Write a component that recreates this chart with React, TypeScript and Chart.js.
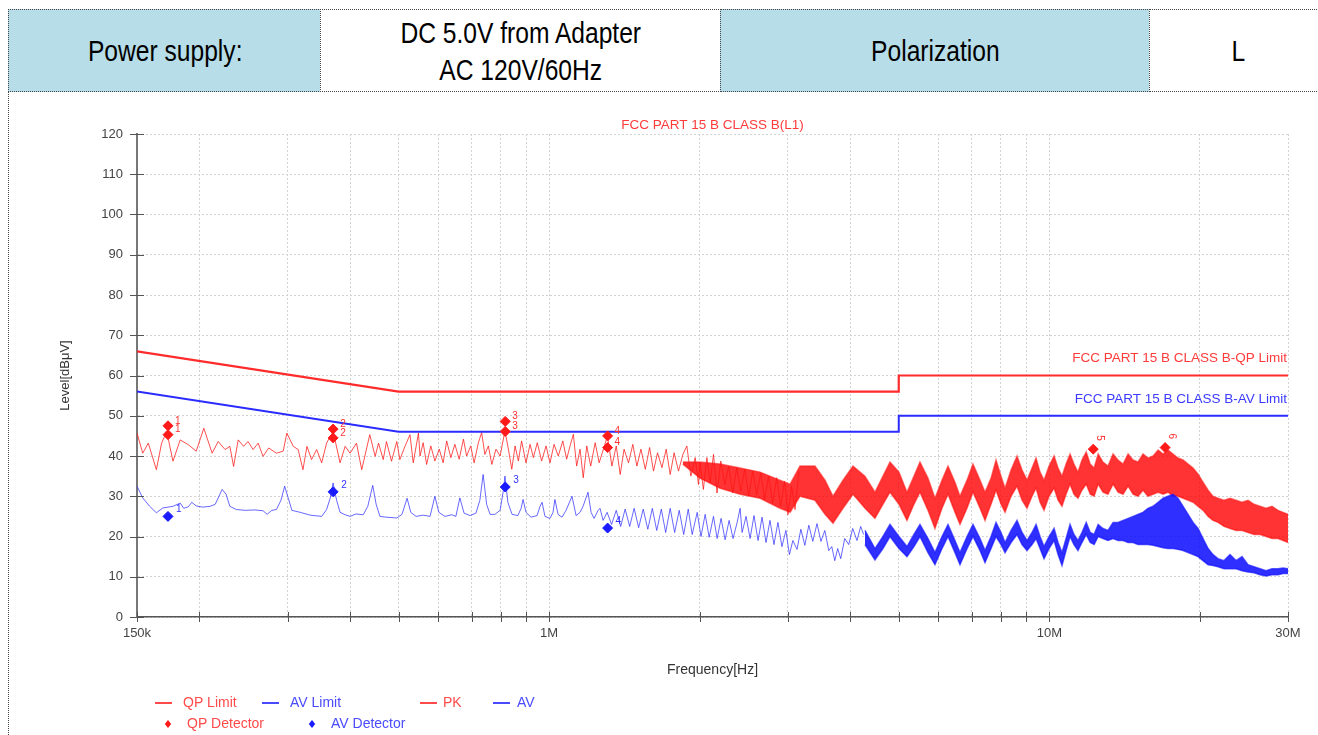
import React, { useEffect, useRef } from 'react';
import { Chart, registerables } from 'chart.js';

Chart.register(...registerables);

const FONT = '"Liberation Sans", Arial, Helvetica, sans-serif';

// ---------- header table texts ----------
const supplyLabel = 'Power supply:';
const supplyLines = ['DC 5.0V from Adapter', 'AC 120V/60Hz'];
const polarLabel = 'Polarization';
const polarValue = 'L';

// ---------- chart texts ----------
const chartTitle = 'FCC PART 15 B CLASS B(L1)';
const qpLimitName = 'FCC PART 15 B CLASS B-QP Limit';
const avLimitName = 'FCC PART 15 B CLASS B-AV Limit';
const yAxisTitle = 'Level[dBμV]';
const xAxisTitle = 'Frequency[Hz]';
const legendRow1 = ['QP Limit', 'AV Limit', 'PK', 'AV'];
const legendRow2 = ['QP Detector', 'AV Detector'];

// ---------- axes (frequency in MHz, level in dBμV) ----------
const yTicks = [0, 10, 20, 30, 40, 50, 60, 70, 80, 90, 100, 110, 120];
const xGridFreq = [0.15, 0.2, 0.3, 0.4, 0.5, 0.6, 0.7, 0.8, 0.9, 1, 2, 3, 4, 5, 6, 7, 8, 9, 10, 20, 30];
const xLabelFreq = [0.15, 1, 10, 30];
const xLabelText = ['150k', '1M', '10M', '30M'];

// ---------- limits ----------
const limitFreq = [0.15, 0.5, 5, 5, 30];
const qpLimitLevel = [66, 56, 56, 60, 60];
const avLimitLevel = [56, 46, 46, 50, 50];

// ---------- PK trace (thin part) ----------
const pkFreq = [
  0.150, 0.154, 0.158, 0.164, 0.168, 0.172, 0.177, 0.183, 0.190, 0.197, 0.204, 0.212, 0.218,
  0.225, 0.230, 0.234, 0.239, 0.245, 0.250, 0.256, 0.262, 0.268, 0.275, 0.285, 0.294, 0.299,
  0.308, 0.315, 0.322, 0.328, 0.335, 0.343, 0.351, 0.359, 0.370, 0.382, 0.391, 0.400, 0.412,
  0.422, 0.438, 0.449, 0.456, 0.466, 0.473, 0.484, 0.496, 0.503, 0.515, 0.527, 0.535, 0.548,
  0.552, 0.560, 0.569, 0.580, 0.591, 0.603, 0.614, 0.624, 0.636, 0.648, 0.661, 0.674, 0.684,
  0.697, 0.708, 0.722, 0.733, 0.744, 0.756, 0.768, 0.783, 0.798, 0.816, 0.829, 0.842, 0.855,
  0.868, 0.881, 0.899, 0.916, 0.930, 0.947, 0.966, 0.986, 1.004, 1.023, 1.043, 1.065, 1.084,
  1.101, 1.118, 1.135, 1.153, 1.170, 1.189, 1.211, 1.236, 1.259, 1.284, 1.308, 1.335, 1.362,
  1.387, 1.412, 1.441, 1.470, 1.498, 1.526, 1.557, 1.588, 1.617, 1.647, 1.681, 1.714, 1.746,
  1.778, 1.814, 1.851, 1.885, 1.920, 1.959, 1.989,
  2.003, 2.034, 2.067, 2.099, 2.131, 2.166, 2.204, 2.245, 2.286, 2.329, 2.372, 2.416, 2.461,
  2.506, 2.553, 2.600, 2.648, 2.697, 2.747, 2.798, 2.850, 2.903, 2.956, 3.002, 3.053, 3.102, 3.159,
];
const pkLevel = [
  45.7, 40.7, 43.2, 36.6, 43.2, 46.1, 38.7, 44.0, 42.8, 41.2, 46.9, 40.7, 43.6,
  41.6, 42.4, 37.4, 44.0, 42.4, 43.6, 41.6, 43.2, 39.9, 42.0, 40.7, 41.2, 45.7,
  42.4, 41.6, 36.6, 42.4, 39.1, 41.6, 38.3, 43.2, 46.1, 38.3, 42.4, 40.7, 43.2,
  36.6, 45.3, 39.9, 43.2, 39.1, 43.6, 38.7, 43.6, 39.1, 42.4, 45.3, 38.3, 45.7,
  40.0, 43.3, 37.9, 42.5, 38.75, 41.7, 38.3, 43.75, 39.6, 42.9, 39.2, 44.2, 40.0,
  42.5, 38.3, 43.3, 45.8, 40.4, 42.5, 37.9, 41.7, 40.0, 46.25, 41.7, 36.7, 42.5,
  38.75, 43.75, 38.3, 42.9, 39.6, 43.3, 38.75, 42.5, 38.3, 42.9, 40.0, 43.75, 39.2,
  42.5, 45.4, 37.5, 41.7, 34.6, 42.5, 37.5, 43.3, 38.3, 41.7, 45.0, 37.5, 42.5,
  35.4, 41.7, 38.3, 42.9, 37.5, 41.7, 36.7, 42.1, 36.25, 40.8, 37.1, 41.7, 35.4,
  40.8, 36.25, 40.4, 42.5, 35.0, 39.6, 32.9,
  38.3, 31.7, 39.6, 33.3, 40.4, 30.8, 38.75, 32.9, 37.5, 30.8, 37.1, 31.25, 36.7,
  30.0, 36.25, 30.4, 35.8, 29.2, 35.0, 28.3, 34.6, 27.5, 33.75, 25.4, 32.5, 26.7, 36.25,
];

// ---------- AV trace (thin part) ----------
const avFreq = [
  0.150, 0.154, 0.159, 0.164, 0.169, 0.173, 0.177, 0.183, 0.186, 0.190, 0.193, 0.197, 0.203,
  0.210, 0.215, 0.222, 0.226, 0.230, 0.237, 0.247, 0.258, 0.268, 0.273, 0.279, 0.285, 0.291,
  0.296, 0.301, 0.306, 0.318, 0.333, 0.351, 0.359, 0.365, 0.370, 0.376, 0.382, 0.391, 0.400,
  0.411, 0.425, 0.434, 0.444, 0.451, 0.459, 0.472, 0.496, 0.508, 0.520, 0.529, 0.542, 0.560,
  0.578, 0.591, 0.602, 0.619, 0.639, 0.651, 0.663, 0.676, 0.695, 0.714, 0.727, 0.738, 0.750,
  0.762, 0.779, 0.798, 0.809, 0.816, 0.827, 0.843, 0.866, 0.879, 0.887, 0.899, 0.920, 0.946,
  0.959, 0.968, 0.981, 1.004, 1.018, 1.027, 1.042, 1.061, 1.081, 1.111, 1.132, 1.153, 1.169,
  1.196, 1.213, 1.230, 1.253, 1.264,
  1.282, 1.306, 1.333, 1.362, 1.390, 1.419, 1.449, 1.479, 1.510, 1.542, 1.575, 1.608, 1.641,
  1.676, 1.710, 1.746, 1.782, 1.820, 1.858, 1.897, 1.932, 1.977, 2.012, 2.051, 2.089, 2.131,
  2.167, 2.207, 2.248, 2.290, 2.332, 2.376, 2.409, 2.431, 2.476, 2.522, 2.568, 2.616, 2.665,
  2.714, 2.764, 2.815, 2.867, 2.920, 2.974, 3.022, 3.071, 3.130, 3.186, 3.245, 3.305, 3.366,
  3.432, 3.495, 3.557, 3.623, 3.673, 3.724, 3.775, 3.828, 3.899, 3.971, 4.045, 4.125, 4.196, 4.254,
];
const avLevel = [
  32.5, 29.6, 27.5, 25.9, 27.1, 27.3, 27.5, 28.3, 27.0, 27.4, 28.5, 27.6, 27.3,
  27.5, 28.0, 31.7, 30.5, 27.5, 26.7, 26.5, 26.6, 26.4, 25.5, 26.5, 26.7, 29.0,
  32.5, 29.5, 26.5, 26.0, 25.3, 25.0, 26.7, 29.5, 33.3, 29.0, 26.0, 25.4, 25.0,
  25.6, 25.4, 27.5, 32.7, 28.0, 25.0, 24.8, 24.6, 25.5, 29.5, 26.0, 25.0, 25.3,
  25.0, 30.0, 26.0, 25.0, 25.4, 25.0, 29.6, 25.8, 25.2, 25.8, 29.0, 35.4, 28.0,
  25.5, 25.5, 26.5, 31.0, 35.0, 28.5, 25.5, 25.2, 27.0, 29.2, 26.0, 24.8, 25.2,
  27.5, 28.5, 25.0, 24.5, 26.0, 29.2, 25.5, 24.8, 26.5, 30.0, 25.2, 26.0, 27.5,
  31.0, 26.0, 24.5, 26.5, 27.0,
  24.0, 26.0, 23.0, 26.5, 22.5, 26.8, 22.5, 27.0, 22.2, 26.8, 21.8, 27.0, 21.5,
  26.8, 21.0, 27.0, 21.0, 26.5, 20.5, 26.8, 20.5, 26.0, 20.0, 25.5, 19.8, 25.0,
  19.5, 24.5, 19.2, 24.0, 19.5, 23.5, 27.0, 21.0, 25.0, 19.5, 25.2, 19.0, 24.8,
  18.5, 24.0, 18.0, 23.5, 17.5, 21.5, 15.5, 19.0, 16.8, 21.8, 17.8, 22.8, 18.8,
  23.2, 18.8, 21.5, 16.5, 17.5, 14.0, 17.0, 14.5, 19.5, 18.0, 22.0, 19.0, 22.5, 20.5,
];

// ---------- dense high-frequency part: upper / lower envelopes ----------
const bandFreq = [
  1.85, 2.003, 2.197, 2.409, 2.640, 2.894,
  3.032, 3.173, 3.400, 3.561, 3.694, 3.868, 4.050, 4.280, 4.481, 4.649, 4.802, 5.005, 5.193,
  5.362, 5.513, 5.720, 5.907, 6.101, 6.272, 6.477, 6.628, 6.846, 7.037, 7.268, 7.437, 7.646,
  7.824, 8.006, 8.155, 8.384, 8.618, 8.819, 9.024, 9.234, 9.407, 9.581, 9.758, 9.986, 10.22,
  10.41, 10.60, 10.80, 11.00, 11.20, 11.41, 11.62, 11.85, 12.07, 12.29, 12.52, 12.80, 13.10,
  13.41, 13.72, 14.04, 14.37, 14.70, 15.04, 15.39, 15.75, 16.12, 16.50, 16.88, 17.27, 17.67,
  18.08, 18.51, 18.94, 19.38, 19.83, 20.29, 20.77, 21.24, 21.74, 22.35, 22.97, 23.62, 24.28,
  24.96, 25.66, 26.38, 27.12, 27.87, 28.65, 29.32, 30.0,
];
const pkBandHigh = [
  38.5, 38.5, 38, 37, 36, 34,
  33, 37.5, 37.5, 34, 30, 34, 37.5, 35, 31, 35, 38.5, 36, 31,
  35, 38.5, 34.5, 29.5, 34, 37.5, 33.5, 30, 34, 38, 34, 31, 34.5,
  39, 35, 32, 36.5, 40, 36.5, 34, 37, 39.5, 36, 34, 37.5, 40,
  37, 35, 38, 40.5, 38, 36, 39, 41, 38, 37, 40.5, 38.5, 37.5,
  40.5, 39, 38, 40.5, 39, 38.5, 40.5, 39.5, 40, 41.5, 40.5, 41.5, 40.5,
  39.5, 39, 38, 37, 35.5, 33.5, 31.5, 30, 29.5, 29, 29.5, 29, 28.5,
  29, 28, 27.5, 27, 27.5, 26.5, 26, 25.5,
];
const pkBandLow = [
  38, 34.5, 32, 30.5, 29.5, 27,
  26, 30, 29, 25.5, 23.3, 27, 30.5, 27, 24.5, 28, 31, 28, 24,
  28, 31, 26.5, 22, 27, 30.5, 26, 23, 27, 31, 27, 24, 28,
  31.5, 28, 26, 30, 32.5, 29, 27, 30, 32, 28.5, 26.5, 30, 32,
  29, 27.5, 30.5, 33, 30.5, 29.5, 31.5, 33, 30.5, 30, 33, 31, 30.5,
  33, 31, 30.5, 32.5, 30.5, 30, 31.5, 30, 30.5, 31, 30.5, 31, 30,
  30, 29.5, 29, 28.5, 27.5, 26.5, 25, 24, 23.5, 22.5, 22, 21.5, 21.5,
  21, 20.5, 20.5, 20, 19.5, 19.5, 19, 18.5,
];
const avBandHigh = [
  null, null, null, null, null, null,
  null, null, null, null, null, null, null, 21.5, 17, 20, 23, 20, 17.5,
  20.5, 23, 19.5, 16, 20, 23, 19, 16, 20, 23, 19.5, 16.5, 20,
  23.5, 21, 18.5, 21.5, 24, 21, 19, 21, 23, 20, 17.5, 20, 22,
  18.5, 16, 19.5, 23, 20.5, 19, 21, 23.5, 21, 20.5, 23, 22, 21.5,
  23.5, 23.5, 24, 24.5, 25, 25.5, 26, 27, 27.5, 28.5, 29.5, 30, 30.5,
  29.5, 27.5, 25.5, 23.5, 22, 19.5, 17, 15.5, 14.5, 14, 15.5, 14, 15,
  13, 12.5, 12, 11.5, 12, 12, 12.2, 12,
];
const avBandLow = [
  null, null, null, null, null, null,
  null, null, null, null, null, null, null, 18, 14.2, 17, 20, 17, 15,
  17.5, 20, 16, 13, 17, 20, 16, 13, 17, 20, 16.5, 13.5, 17,
  20, 18, 16, 18.5, 20.5, 18, 16.5, 18, 19.5, 17, 14.5, 17, 19,
  15.5, 12.8, 16.5, 20, 18, 16.5, 18.5, 20.5, 18.5, 18, 20, 19.5, 19,
  19.5, 19, 19, 18.5, 18.5, 18, 18, 18, 17.8, 17.5, 17.2, 17, 17,
  16.8, 16.5, 16, 15.5, 15, 14, 13, 12.8, 12.5, 12, 12, 12, 11.5,
  11.2, 11, 10.5, 10.2, 10.5, 10.5, 10.8, 10.8,
];

// ---------- detector readings ----------
const qpDetFreq = [0.173, 0.173, 0.370, 0.370, 0.817, 0.817, 1.309, 1.309, 12.24, 17.04];
const qpDetLevel = [47.5, 45.3, 46.7, 44.5, 48.6, 46.1, 45.0, 42.1, 41.7, 42.1];
const qpDetLabel = ['1', '1', '2', '2', '3', '3', '4', '4', '5', '6'];
const avDetFreq = [0.173, 0.370, 0.817, 1.309];
const avDetLevel = [25.0, 31.1, 32.3, 22.1];
const avDetLabel = ['1', '2', '3', '4'];

const RED = '#ff2b2b';
const BLUE = '#2b2bff';

function pts(xs: number[], ys: (number | null)[]) {
  const out: { x: number; y: number }[] = [];
  xs.forEach((x, i) => {
    const y = ys[i];
    if (y !== null && y !== undefined) out.push({ x, y });
  });
  return out;
}

function diamond(ctx: CanvasRenderingContext2D, x: number, y: number, r: number, color: string) {
  ctx.beginPath();
  ctx.moveTo(x, y - r);
  ctx.lineTo(x + r * 0.8, y);
  ctx.lineTo(x, y + r);
  ctx.lineTo(x - r * 0.8, y);
  ctx.closePath();
  ctx.fillStyle = color;
  ctx.fill();
}

const decorPlugin = {
  id: 'decor',
  afterDatasetsDraw(chart: any) {
    const { ctx } = chart;
    ctx.save();
    ctx.font = `10px ${FONT}`;
    ctx.textAlign = 'left';
    ctx.textBaseline = 'middle';
    const qpMeta = chart.getDatasetMeta(0);
    qpMeta.data.forEach((p: any, i: number) => {
      ctx.fillStyle = '#ff3030';
      if (i >= 8) {
        ctx.save();
        ctx.translate(p.x + 7, p.y - 14);
        ctx.rotate(Math.PI / 2);
        ctx.fillText(qpDetLabel[i], 0, 0);
        ctx.restore();
      } else {
        ctx.fillText(qpDetLabel[i], p.x + 7, p.y - 5);
      }
    });
    const avMeta = chart.getDatasetMeta(1);
    avMeta.data.forEach((p: any, i: number) => {
      ctx.fillStyle = '#3030ff';
      ctx.fillText(avDetLabel[i], p.x + 8, p.y - 7);
    });
    ctx.restore();
  },
  afterDraw(chart: any) {
    const { ctx, chartArea: a, scales } = chart;
    const xs = scales.x;
    const ys = scales.y;
    ctx.save();
    // tick marks crossing the axes
    ctx.strokeStyle = '#555';
    ctx.lineWidth = 1;
    yTicks.forEach((v) => {
      const y = Math.round(ys.getPixelForValue(v)) + 0.5;
      ctx.beginPath();
      ctx.moveTo(a.left - 7, y);
      ctx.lineTo(a.left + 7, y);
      ctx.stroke();
    });
    xGridFreq.forEach((f) => {
      const x = Math.round(xs.getPixelForValue(f)) + 0.5;
      ctx.beginPath();
      ctx.moveTo(x, a.bottom - 5);
      ctx.lineTo(x, a.bottom + 5);
      ctx.stroke();
    });

    const cx = (a.left + a.right) / 2;
    // title
    ctx.font = `13.5px ${FONT}`;
    ctx.fillStyle = '#ff3b3b';
    ctx.textAlign = 'center';
    ctx.textBaseline = 'middle';
    ctx.fillText(chartTitle, cx, a.top - 9);
    // limit names
    ctx.textAlign = 'right';
    ctx.fillText(qpLimitName, a.right - 1, ys.getPixelForValue(60) - 17);
    ctx.fillStyle = '#3b3bff';
    ctx.fillText(avLimitName, a.right - 1, ys.getPixelForValue(50) - 16);
    // axis titles
    ctx.fillStyle = '#333';
    ctx.textAlign = 'center';
    ctx.font = `14px ${FONT}`;
    ctx.fillText(xAxisTitle, cx, a.bottom + 53);
    ctx.save();
    ctx.translate(56, (a.top + a.bottom) / 2);
    ctx.rotate(-Math.PI / 2);
    ctx.font = `13px ${FONT}`;
    ctx.fillText(yAxisTitle, 0, 0);
    ctx.restore();

    // legend
    const r1 = a.bottom + 86;
    const r2 = a.bottom + 107;
    const lineItems = [
      { x0: 146, x1: 163, tx: 174, c: '#ff4a4a', t: legendRow1[0] },
      { x0: 253, x1: 270, tx: 281, c: '#4a4aff', t: legendRow1[1] },
      { x0: 411, x1: 428, tx: 434, c: '#ff4a4a', t: legendRow1[2] },
      { x0: 484, x1: 501, tx: 508, c: '#4a4aff', t: legendRow1[3] },
    ];
    ctx.font = `14px ${FONT}`;
    ctx.textAlign = 'left';
    lineItems.forEach((it) => {
      ctx.strokeStyle = it.c;
      ctx.lineWidth = 2;
      ctx.beginPath();
      ctx.moveTo(it.x0, r1);
      ctx.lineTo(it.x1, r1);
      ctx.stroke();
      ctx.fillStyle = it.c;
      ctx.fillText(it.t, it.tx, r1);
    });
    diamond(ctx, 159, r2, 4, '#ff1a1a');
    ctx.fillStyle = '#ff4a4a';
    ctx.fillText(legendRow2[0], 178, r2);
    diamond(ctx, 303, r2, 4, '#1a1aff');
    ctx.fillStyle = '#4a4aff';
    ctx.fillText(legendRow2[1], 322, r2);
    ctx.restore();
  },
};

const cellBase: React.CSSProperties = {
  position: 'absolute',
  top: 9,
  height: 83,
  boxSizing: 'border-box',
  borderTop: '1px dotted #444',
  borderBottom: '1px dotted #444',
  borderLeft: '1px dotted #444',
  display: 'flex',
  alignItems: 'center',
  justifyContent: 'center',
};
const cellText: React.CSSProperties = {
  display: 'inline-block',
  fontFamily: FONT,
  fontSize: 30,
  lineHeight: '37px',
  color: '#000',
  whiteSpace: 'nowrap',
  textAlign: 'center',
  transform: 'scaleX(0.82)',
};

export default function App() {
  const ref = useRef<HTMLCanvasElement>(null);

  useEffect(() => {
    const canvas = ref.current;
    if (!canvas) return;
    const lineBase = { pointRadius: 0, borderWidth: 1, tension: 0, fill: false, showLine: true };
    const chart = new Chart(canvas, {
      type: 'line',
      data: {
        datasets: [
          {
            label: 'QP Detector', data: pts(qpDetFreq, qpDetLevel), showLine: false,
            pointStyle: 'rectRot', pointRadius: 5, backgroundColor: '#ff1a1a', borderColor: '#ff1a1a', order: 0,
          },
          {
            label: 'AV Detector', data: pts(avDetFreq, avDetLevel), showLine: false,
            pointStyle: 'rectRot', pointRadius: 5, backgroundColor: '#1a1aff', borderColor: '#1a1aff', order: 0,
          },
          { ...lineBase, label: 'QP Limit', data: pts(limitFreq, qpLimitLevel), borderColor: RED, borderWidth: 2.2, order: 1 },
          { ...lineBase, label: 'AV Limit', data: pts(limitFreq, avLimitLevel), borderColor: BLUE, borderWidth: 2, order: 1 },
          {
            ...lineBase, label: 'AV band high', data: pts(bandFreq, avBandHigh), fill: '+1', borderWidth: 1.5,
            borderColor: 'rgba(30,30,255,0.7)', backgroundColor: 'rgba(10,10,255,0.85)', order: 2,
          },
          { ...lineBase, label: 'AV band low', data: pts(bandFreq, avBandLow), borderWidth: 1.5, borderColor: 'rgba(30,30,255,0.7)', order: 2 },
          { ...lineBase, label: 'AV', data: pts(avFreq, avLevel), borderColor: 'rgba(40,40,255,0.7)', order: 2 },
          {
            ...lineBase, label: 'PK band high', data: pts(bandFreq, pkBandHigh), fill: '+1', borderWidth: 1.5,
            borderColor: 'rgba(255,30,30,0.6)', backgroundColor: 'rgba(255,0,0,0.8)', order: 3,
          },
          { ...lineBase, label: 'PK band low', data: pts(bandFreq, pkBandLow), borderWidth: 1.5, borderColor: 'rgba(255,30,30,0.6)', order: 3 },
          { ...lineBase, label: 'PK', data: pts(pkFreq, pkLevel), borderColor: 'rgba(255,20,20,0.75)', order: 2.5 },
        ],
      },
      options: {
        responsive: false,
        maintainAspectRatio: false,
        animation: false,
        devicePixelRatio: 1,
        events: [],
        layout: { padding: { left: 88, right: 30, top: 42, bottom: 88 } },
        plugins: {
          legend: { display: false },
          title: { display: false },
          tooltip: { enabled: false },
        },
        scales: {
          x: {
            type: 'logarithmic',
            min: 0.15,
            max: 30,
            afterBuildTicks: (s: any) => { s.ticks = xGridFreq.map((v) => ({ value: v })); },
            afterFit: (s: any) => { s.height = 30; },
            ticks: {
              autoSkip: false,
              maxRotation: 0,
              padding: 9,
              color: '#444',
              font: { family: FONT, size: 13 },
              callback: (v: any) => {
                const i = xLabelFreq.indexOf(Number(v));
                return i >= 0 ? xLabelText[i] : '';
              },
            },
            grid: { color: '#d2d2d2', lineWidth: 1, drawTicks: false },
            border: { display: true, color: '#555', width: 1.5, dash: [2, 2] },
          },
          y: {
            type: 'linear',
            min: 0,
            max: 120,
            afterBuildTicks: (s: any) => { s.ticks = yTicks.map((v) => ({ value: v })); },
            afterFit: (s: any) => { s.width = 40; },
            ticks: {
              padding: 14,
              color: '#444',
              font: { family: FONT, size: 13 },
              callback: (v: any) => String(v),
            },
            grid: { color: '#d2d2d2', lineWidth: 1, drawTicks: false },
            border: { display: true, color: '#777', width: 2, dash: [2, 2] },
          },
        },
      } as any,
      plugins: [decorPlugin],
    });
    return () => chart.destroy();
  }, []);

  return (
    <div style={{ position: 'fixed', left: 0, top: 0, width: 1318, height: 735, overflow: 'hidden', background: '#fff' }}>
      <div style={{ ...cellBase, left: 8, width: 313, background: '#b6dde8' }}>
        <span style={cellText}>{supplyLabel}</span>
      </div>
      <div style={{ ...cellBase, left: 320, width: 401, background: '#fff' }}>
        <span style={cellText}>
          {supplyLines[0]}
          <br />
          {supplyLines[1]}
        </span>
      </div>
      <div style={{ ...cellBase, left: 720, width: 430, background: '#b6dde8' }}>
        <span style={cellText}>{polarLabel}</span>
      </div>
      <div style={{ ...cellBase, left: 1149, width: 178, background: '#fff', borderRight: '1px dotted #444' }}>
        <span style={cellText}>{polarValue}</span>
      </div>
      <div style={{ position: 'absolute', left: 8, top: 91, width: 0, height: 644, borderLeft: '1px dotted #444' }} />
      <canvas
        ref={ref}
        width={1309}
        height={643}
        style={{ position: 'absolute', left: 9, top: 92, width: 1309, height: 643 }}
      />
    </div>
  );
}
